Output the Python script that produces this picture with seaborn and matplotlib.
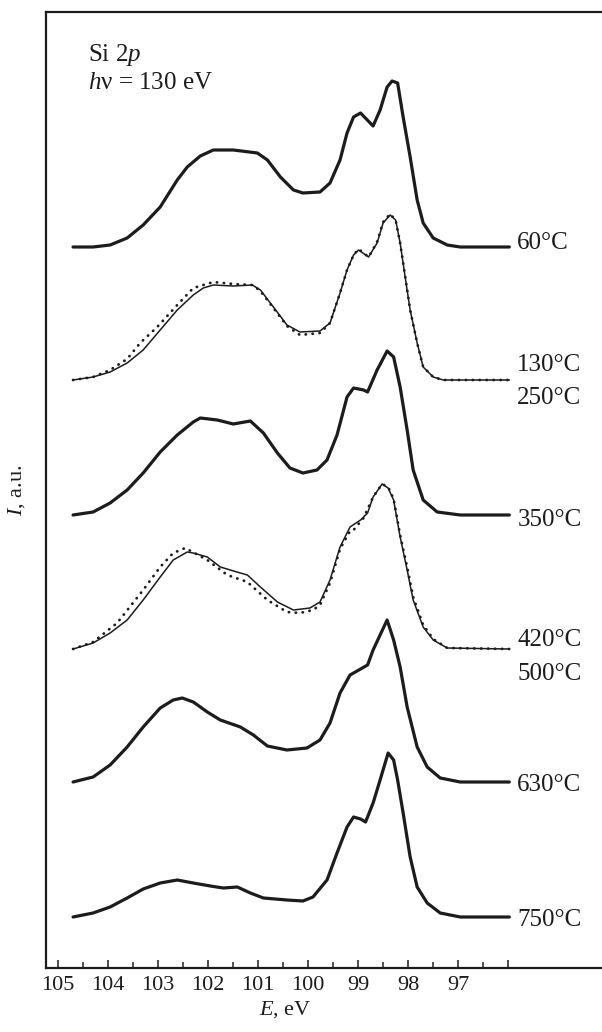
import numpy as np
import pandas as pd
import matplotlib
matplotlib.use("Agg")
import matplotlib.pyplot as plt
import seaborn as sns

sns.set_theme(style="ticks")
plt.rcParams['font.family'] = ['Liberation Serif', 'DejaVu Serif']
plt.rcParams['mathtext.fontset'] = 'custom'
plt.rcParams['mathtext.rm'] = 'Liberation Serif'
plt.rcParams['mathtext.it'] = 'Liberation Serif:italic'

# Si 2p spectra: energy (eV) and intensity above each baseline (a.u.)
e_60 = [104.69, 104.29, 103.95, 103.61, 103.29, 102.95, 102.61, 102.41, 102.15, 101.89, 101.49,
        101.01, 100.81, 100.55, 100.29, 100.10, 99.76, 99.56, 99.36, 99.22, 99.09, 98.95, 98.70,
        98.56, 98.42, 98.32, 98.21, 98.10, 97.96, 97.82, 97.70, 97.50, 97.22, 96.96, 95.98]
i_60 = [0, 0, 2, 9, 22, 40, 67, 80, 91, 97, 97, 94, 87, 70, 57, 54, 55, 64, 87, 114, 130, 134, 121,
        137, 160, 166, 164, 130, 90, 47, 24, 9, 2, 0, 0]

e_250 = [104.69, 104.29, 103.95, 103.61, 103.29, 102.95, 102.61, 102.29, 102.09, 101.89, 101.49,
         101.11, 100.95, 100.69, 100.42, 100.16, 99.76, 99.56, 99.36, 99.22, 99.09, 98.99, 98.79,
         98.62, 98.50, 98.36, 98.25, 98.16, 98.06, 97.96, 97.82, 97.70, 97.50, 97.30, 95.98]
i_250 = [0, 3, 8, 17, 30, 50, 70, 85, 92, 95, 94, 95, 90, 73, 55, 48, 49, 57, 87, 110, 125, 130, 123,
         137, 157, 165, 160, 137, 103, 70, 37, 13, 3, 0, 0]

e_130 = [104.69, 104.29, 103.95, 103.61, 103.35, 103.01, 102.61, 102.29, 101.89, 101.49, 101.11,
         100.95, 100.69, 100.42, 100.16, 99.76, 99.56, 99.36, 99.22, 99.09, 98.99, 98.79, 98.62,
         98.50, 98.36, 98.25, 98.16, 98.06, 97.96, 97.82, 97.70, 97.50, 97.30, 95.98]
i_130 = [0, 3, 10, 21, 37, 53, 75, 92, 98, 96, 95, 89, 72, 54, 45, 47, 57, 87, 110, 125, 131, 123,
         138, 158, 166, 160, 137, 104, 70, 37, 13, 3, 0, 0]

e_350 = [104.69, 104.29, 103.95, 103.61, 103.29, 102.95, 102.61, 102.29, 102.15, 101.81, 101.49,
         101.15, 100.89, 100.61, 100.36, 100.10, 99.82, 99.62, 99.42, 99.22, 99.09, 98.89, 98.81,
         98.62, 98.42, 98.29, 98.16, 98.02, 97.90, 97.70, 97.42, 96.96, 95.98]
i_350 = [0, 3, 12, 25, 42, 63, 80, 93, 97, 95, 91, 94, 82, 62, 47, 42, 45, 55, 80, 118, 127, 125, 123,
         145, 164, 158, 128, 85, 45, 15, 3, 0, 0]

e_420 = [104.69, 104.29, 103.95, 103.61, 103.29, 102.95, 102.69, 102.41, 102.29, 102.01, 101.75,
         101.35, 101.21, 100.95, 100.61, 100.29, 99.96, 99.76, 99.56, 99.36, 99.16, 98.95, 98.81,
         98.70, 98.52, 98.40, 98.29, 98.16, 98.02, 97.90, 97.70, 97.50, 97.22, 95.98]
i_420 = [0, 6, 16, 29, 49, 72, 89, 97, 96, 92, 82, 76, 74, 62, 47, 39, 41, 47, 69, 102, 122, 129, 136,
         152, 165, 161, 149, 112, 79, 49, 22, 9, 1, 0]

e_500 = [104.69, 104.29, 103.81, 103.29, 102.95, 102.69, 102.45, 102.01, 101.61, 101.21, 100.81,
         100.42, 100.16, 99.90, 99.76, 99.56, 99.36, 99.16, 99.09, 98.89, 98.70, 98.52, 98.40,
         98.29, 98.16, 98.02, 97.90, 97.70, 97.50, 97.22, 95.98]
i_500 = [0, 7, 26, 59, 82, 96, 101, 89, 74, 67, 49, 37, 36, 39, 44, 66, 100, 118, 119, 131, 152, 165,
         162, 150, 114, 82, 52, 24, 10, 1, 0]

e_630 = [104.69, 104.29, 103.95, 103.61, 103.29, 102.95, 102.69, 102.51, 102.29, 102.01, 101.75,
         101.35, 101.09, 100.81, 100.42, 100.02, 99.76, 99.56, 99.36, 99.16, 98.95, 98.81, 98.70,
         98.56, 98.42, 98.29, 98.16, 98.02, 97.82, 97.62, 97.36, 96.96, 95.98]
i_630 = [0, 5, 17, 35, 55, 74, 82, 84, 80, 70, 62, 55, 47, 36, 32, 34, 42, 59, 89, 107, 113, 117, 132,
         147, 162, 142, 115, 75, 35, 15, 4, 0, 0]

e_750 = [104.69, 104.29, 103.95, 103.61, 103.29, 102.95, 102.61, 102.29, 101.95, 101.69, 101.41,
         101.15, 100.89, 100.42, 100.10, 99.90, 99.62, 99.42, 99.22, 99.09, 98.95, 98.85, 98.70,
         98.56, 98.40, 98.29, 98.21, 98.10, 97.96, 97.82, 97.62, 97.36, 96.96, 95.98]
i_750 = [0, 4, 10, 19, 28, 34, 37, 34, 31, 29, 30, 24, 19, 17, 16, 20, 37, 64, 90, 100, 98, 95, 114,
         137, 164, 157, 137, 104, 60, 30, 14, 4, 0, 0]

# vertical offsets of the stacked spectra
offsets = [721, 588, 453, 319, 186, 51]

series = [
    ("60°C", e_60, i_60, offsets[0], "thick"),
    ("250°C", e_250, i_250, offsets[1], "thin"),
    ("130°C", e_130, i_130, offsets[1], "dots"),
    ("350°C", e_350, i_350, offsets[2], "thick"),
    ("420°C", e_420, i_420, offsets[3], "thin"),
    ("500°C", e_500, i_500, offsets[3], "dots"),
    ("630°C", e_630, i_630, offsets[4], "thick"),
    ("750°C", e_750, i_750, offsets[5], "thick"),
]

# label text and shift relative to the spectrum baseline
labels = [("60°C", offsets[0], 4), ("130°C", offsets[1], 15), ("250°C", offsets[1], -18),
          ("350°C", offsets[2], -5), ("420°C", offsets[3], 9), ("500°C", offsets[3], -25),
          ("630°C", offsets[4], -3), ("750°C", offsets[5], -3)]

frames = []
for name, e, i, off, style in series:
    frames.append(pd.DataFrame({"E": e, "I": np.array(i) + off, "T": name, "style": style}))
df = pd.concat(frames, ignore_index=True)

fig = plt.figure(figsize=(6.02, 10.32), dpi=100)
ax = fig.add_axes([46 / 602, 64 / 1032, 556 / 602, 956 / 1032])

ink = "#1c1c1c"
for name, sub in df.groupby("T", sort=False):
    style = sub["style"].iloc[0]
    if style == "thick":
        sns.lineplot(data=sub, x="E", y="I", ax=ax, sort=False, estimator=None,
                     color=ink, lw=2.3, solid_joinstyle="round")
    elif style == "thin":
        sns.lineplot(data=sub, x="E", y="I", ax=ax, sort=False, estimator=None,
                     color=ink, lw=1.1)
    else:
        sns.lineplot(data=sub, x="E", y="I", ax=ax, sort=False, estimator=None,
                     color=ink, lw=2.0, linestyle=(0, (0.1, 2.4)), dash_capstyle="round")

for text, off, dy in labels:
    ax.text(95.82, off + dy, text, fontsize=18, va="center", ha="left", color=ink)

ax.text(0.0755, 0.955, "Si 2$p$", transform=ax.transAxes, fontsize=18, va="center", color=ink)
ax.text(0.0755, 0.926, "$h$ν = 130 eV", transform=ax.transAxes, fontsize=18, va="center", color=ink)

ax.set_xlim(105.23, 94.13)
ax.set_ylim(0, 956)
ax.set_xticks(np.arange(96, 106, 1))
ax.set_xticks(np.arange(96.5, 105, 1), minor=True)
ax.set_xticklabels([str(v) if v >= 97 else "" for v in range(96, 106)])
ax.set_yticks([])
ax.tick_params(axis="x", which="major", direction="in", length=6, width=1.1,
               labelsize=16, pad=6, colors=ink)
ax.tick_params(axis="x", which="minor", direction="in", length=4, width=1.1)
for side in ["left", "bottom", "top"]:
    ax.spines[side].set_linewidth(1.6)
    ax.spines[side].set_color(ink)
ax.spines["right"].set_visible(False)

ax.set_xlabel("$E$, eV", fontsize=16, color=ink)
ax.xaxis.set_label_coords(0.43, -0.033)
ax.set_ylabel("$I$, a.u.", fontsize=16, color=ink)
ax.yaxis.set_label_coords(-0.034, 0.5)

fig.savefig("out.png", dpi=100)
